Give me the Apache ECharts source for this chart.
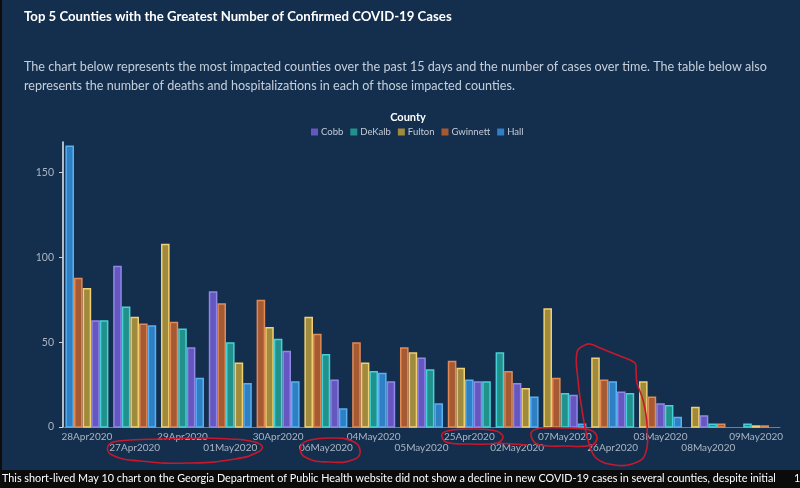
<!DOCTYPE html>
<html>
<head>
<meta charset="utf-8">
<script src="https://cdn.jsdelivr.net/npm/echarts@6/dist/echarts.min.js"></script>
<style>
html,body{margin:0;padding:0;background:#142f4e;}
#chart{width:800px;height:488px;}
</style>
</head>
<body>
<div id="chart"></div>
<script>
// ---- data ----
const categories = ['28Apr2020','27Apr2020','29Apr2020','01May2020','30Apr2020','06May2020','04May2020','05May2020','25Apr2020','02May2020','07May2020','26Apr2020','03May2020','08May2020','09May2020'];
const counties = ['Cobb','DeKalb','Fulton','Gwinnett','Hall'];
const cobb     = [63, 95, 47, 80, 45, 28, 27, 41, 27, 26, 19, 21, 14, 7, null];
const dekalb   = [63, 71, 58, 50, 52, 43, 33, 34, 27, 44, 20, 20, 13, 2, 2];
const fulton   = [82, 65, 108, 38, 59, 65, 38, 44, 35, 23, 70, 41, 27, 12, 1];
const gwinnett = [88, 61, 62, 73, 75, 55, 50, 47, 39, 33, 29, 28, 18, 2, 1];
const hall     = [166, 60, 29, 26, 27, 11, 32, 14, 28, 18, 2, 27, 6, null, null];
const yTicks = [0, 50, 100, 150];

const values = [cobb, dekalb, fulton, gwinnett, hall];
const fills   = ['#6656c0','#21918c','#a08a3e','#a65a32','#2f7fc4'];
const strokes = ['#9088e8','#48d0d8','#f0d070','#e08a58','#58b0f0'];

// rank bars inside each date group (descending, ties keep county order)
const rankInfo = categories.map((c, ci) => {
  const present = [];
  values.forEach((arr, si) => { if (arr[ci] != null) present.push(si); });
  present.sort((a, b) => (values[b][ci] - values[a][ci]) || (a - b));
  const r = {};
  present.forEach((si, k) => { r[si] = k; });
  return { rank: r, n: present.length };
});

function makeRender(si) {
  return function (params, api) {
    const cat = api.value(0), v = api.value(1), rank = api.value(2), n = api.value(3);
    const base = api.coord([cat, 0]);
    const top = api.coord([cat, v]);
    const band = api.size([1, 0])[0];
    const bw = band * 0.9 / 5;
    const x0 = base[0] - n * bw / 2 + rank * bw;
    return {
      type: 'rect',
      shape: { x: x0 + 0.75, y: top[1] + 0.75, width: bw - 1.5, height: Math.max(0, base[1] - top[1] - 0.75) },
      style: { fill: fills[si], stroke: strokes[si], lineWidth: 1.5 }
    };
  };
}

const series = counties.map((name, si) => ({
  name: name,
  type: 'custom',
  renderItem: makeRender(si),
  itemStyle: { color: fills[si] },
  encode: { x: 0, y: 1 },
  data: categories.map((c, ci) => values[si][ci] == null ? null :
        [ci, values[si][ci], rankInfo[ci].rank[si], rankInfo[ci].n]).filter(d => d)
}));

const red = '#c8182c';
const chart = echarts.init(document.getElementById('chart'), null, { renderer: 'canvas' });
chart.setOption({
  backgroundColor: '#142f4e',
  animation: false,
  textStyle: { fontFamily: 'Lato' },
  grid: { left: 63, right: 20, top: 142, bottom: 61, containLabel: false },
  legend: {
    data: counties,
    top: 122, left: 306,
    icon: 'rect', itemWidth: 7, itemHeight: 7, itemGap: 7,
    textStyle: { color: '#c3ccd8', fontSize: 9.5, fontFamily: 'Lato', padding: [0, 0, 0, -2] }
  },
  xAxis: {
    type: 'category',
    data: categories,
    axisLine: { lineStyle: { color: '#6d7f96', width: 1 } },
    axisTick: { show: false },
    axisLabel: {
      interval: 0, color: '#aab5c4', fontSize: 10, fontFamily: 'Lato', margin: 4, lineHeight: 11,
      formatter: (v, i) => (i % 2 ? '\n' + v : v)
    },
    splitLine: { show: false }
  },
  yAxis: {
    type: 'value', min: 0, max: 168,
    axisLine: { show: true, lineStyle: { color: '#e8eef5', width: 1.5 } },
    axisTick: { show: true, length: 4, lineStyle: { color: '#c9d2dd' }, customValues: yTicks },
    axisLabel: { color: '#aab5c4', fontSize: 10.5, fontFamily: 'Lato', margin: 9, customValues: yTicks },
    splitLine: { show: false }
  },
  series: series,
  graphic: [
    { type: 'rect', left: 0, top: 0, shape: { width: 2, height: 488 }, style: { fill: '#0d0d0d' }, z: 100 },
    { type: 'text', left: 24, top: 10, style: { text: 'Top 5 Counties with the Greatest Number of Confirmed COVID-19 Cases', fill: '#ffffff', font: 'bold 13.2px Lato' } },
    { type: 'text', left: 24, top: 57, style: { text: 'The chart below represents the most impacted counties over the past 15 days and the number of cases over time. The table below also\nrepresents the number of deaths and hospitalizations in each of those impacted counties.', fill: '#c5cfdb', font: '12.6px Lato', lineHeight: 19 } },
    { type: 'text', x: 408, y: 117, style: { text: 'County', fill: '#ffffff', font: 'bold 11px Lato', align: 'center', verticalAlign: 'middle' } },
    { type: 'rect', left: 0, top: 470, shape: { width: 800, height: 18 }, style: { fill: '#0b0b0b' }, z: 90 },
    { type: 'text', x: 2, y: 479, z: 95, style: { text: 'This short-lived May 10 chart on the Georgia Department of Public Health website did not show a decline in new COVID-19 cases in several counties, despite initial', fill: '#ffffff', font: '10.8px Lato', verticalAlign: 'middle' } },
    { type: 'text', x: 794, y: 479, z: 95, style: { text: '1', fill: '#ffffff', font: '10.8px Lato', verticalAlign: 'middle' } },
    // hand-drawn red annotations
    { type: 'polyline', z: 80, shape: { smooth: 0.5, points: [[118,441],[108,446],[112,455],[140,461],[190,463],[235,459],[258,452],[262,446],[250,441],[230,439],[200,438],[160,439],[130,440],[118,441]] }, style: { stroke: red, lineWidth: 1.6, fill: null } },
    { type: 'polyline', z: 80, shape: { smooth: 0.5, points: [[310,440],[301,446],[305,457],[330,462],[355,459],[360,450],[352,441],[330,438],[310,440]] }, style: { stroke: red, lineWidth: 1.6, fill: null } },
    { type: 'polyline', z: 80, shape: { smooth: 0.4, points: [[452,430],[442,434],[446,442],[470,444],[497,443],[503,437],[496,431],[470,429],[452,430]] }, style: { stroke: red, lineWidth: 1.6, fill: null } },
    { type: 'polyline', z: 80, shape: { smooth: 0.4, points: [[497,443],[512,444],[527,445]] }, style: { stroke: red, lineWidth: 1.6, fill: null } },
    { type: 'polyline', z: 80, shape: { smooth: 0.4, points: [[540,428],[531,433],[537,444],[565,446],[592,445],[597,437],[590,430],[565,428],[540,428]] }, style: { stroke: red, lineWidth: 1.6, fill: null } },
    { type: 'polyline', z: 80, shape: { smooth: 0.4, points: [[585,345],[577,352],[578,380],[582,410],[588,440],[596,458],[615,465],[632,464],[645,455],[647,425],[643,400],[637,383],[636,370],[635,363],[620,356],[600,348],[590,344],[585,345]] }, style: { stroke: red, lineWidth: 1.6, fill: null } }
  ]
});
</script>
</body>
</html>
